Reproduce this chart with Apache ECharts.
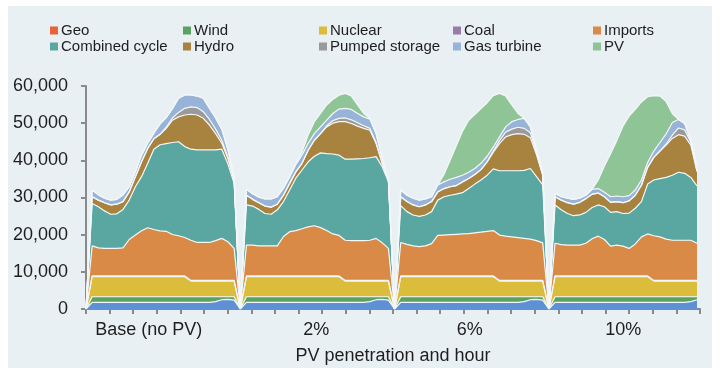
<!DOCTYPE html>
<html><head><meta charset="utf-8">
<script src="https://cdn.jsdelivr.net/npm/echarts/dist/echarts.min.js"></script>
<style>html,body{margin:0;padding:0;background:#fff}#c{width:721px;height:371px}</style>
</head><body><div id="c"></div>
<script>
// Scenario (panel) labels on the x axis
const scenarios = ['Base (no PV)', '2%', '6%', '10%'];
const seriesNames = ['Geo', 'Wind', 'Nuclear', 'Coal', 'Imports', 'Combined cycle', 'Hydro', 'Pumped storage', 'Gas turbine', 'PV'];
const yTicks = [0, 10000, 20000, 30000, 40000, 50000, 60000];

// Hourly generation (MW), hours 1-24, one array per scenario: Base, 2%, 6%, 10%
const geo = [
  [1800,1800,1800,1800,1800,1800,1800,1800,1800,1800,1800,1800,1800,1800,1800,1800,1800,1800,1800,1800,2000,2500,2600,2400],
  [1800,1800,1800,1800,1800,1800,1800,1800,1800,1800,1800,1800,1800,1800,1800,1800,1800,1800,1800,1800,2000,2500,2600,2400],
  [1800,1800,1800,1800,1800,1800,1800,1800,1800,1800,1800,1800,1800,1800,1800,1800,1800,1800,1800,1800,2000,2500,2600,2400],
  [1800,1800,1800,1800,1800,1800,1800,1800,1800,1800,1800,1800,1800,1800,1800,1800,1800,1800,1800,1800,1800,1800,2000,2500]
];
const wind = [
  [1500,1500,1500,1500,1500,1500,1500,1500,1500,1500,1500,1500,1500,1500,1500,1500,1500,1500,1500,1500,1300,800,700,900],
  [1500,1500,1500,1500,1500,1500,1500,1500,1500,1500,1500,1500,1500,1500,1500,1500,1500,1500,1500,1500,1300,800,700,900],
  [1500,1500,1500,1500,1500,1500,1500,1500,1500,1500,1500,1500,1500,1500,1500,1500,1500,1500,1500,1500,1300,800,700,900],
  [1500,1500,1500,1500,1500,1500,1500,1500,1500,1500,1500,1500,1500,1500,1500,1500,1500,1500,1500,1500,1500,1500,1300,800]
];
const nuclear = [
  [5400,5400,5400,5400,5400,5400,5400,5400,5400,5400,5400,5400,5400,5400,5400,5400,4200,4200,4200,4200,4200,4200,4200,4200],
  [5400,5400,5400,5400,5400,5400,5400,5400,5400,5400,5400,5400,5400,5400,5400,5400,4200,4200,4200,4200,4200,4200,4200,4200],
  [5400,5400,5400,5400,5400,5400,5400,5400,5400,5400,5400,5400,5400,5400,5400,5400,4200,4200,4200,4200,4200,4200,4200,4200],
  [5400,5400,5400,5400,5400,5400,5400,5400,5400,5400,5400,5400,5400,5400,5400,5400,4200,4200,4200,4200,4200,4200,4200,4200]
];
const coal = [
  [200,200,200,200,200,200,200,200,200,200,200,200,200,200,200,200,200,200,200,200,200,200,200,200],
  [200,200,200,200,200,200,200,200,200,200,200,200,200,200,200,200,200,200,200,200,200,200,200,200],
  [200,200,200,200,200,200,200,200,200,200,200,200,200,200,200,200,200,200,200,200,200,200,200,200],
  [200,200,200,200,200,200,200,200,200,200,200,200,200,200,200,200,200,200,200,200,200,200,200,200]
];
const imports = [
  [8100,7550,7400,7400,7400,7550,9800,11000,12150,12950,12500,12100,12000,11150,10800,10350,10800,10200,10200,10200,10700,11300,10400,8600],
  [8300,8300,8100,8100,8100,8100,10600,11900,12200,12700,13200,13500,13000,12200,11300,10900,10800,10700,10700,10700,10800,11300,10100,8600],
  [9000,8500,8100,7900,8100,8700,10900,11000,11100,11200,11300,11400,11600,11800,12000,12200,12200,11900,11700,11500,11300,11100,10700,10100],
  [8800,8400,8300,8300,8300,8800,10000,10700,9800,8000,8300,8000,7400,8600,10500,11300,12000,11700,11100,10800,10800,10800,10800,10000]
];
const combinedCycle = [
  [11400,11050,10100,9200,9300,10350,10600,13000,14550,17350,21600,23200,23600,24750,25300,24450,24500,24900,24900,24900,24400,24000,20900,17500],
  [10800,10500,9800,8700,8500,9700,9400,11200,14100,15800,17500,18700,20100,20700,21500,21600,21800,21900,22000,22100,22200,22000,20500,17900],
  [9900,8800,8300,8100,8300,8600,9500,10300,10600,10800,11100,12100,13100,14000,15100,16600,17300,17600,17800,18000,18300,19000,17200,15600],
  [10300,9400,8500,7900,8100,8300,8400,8400,8800,9100,9000,8800,9500,9600,9500,13400,15000,15700,16600,17500,18300,18000,16900,15400]
];
const hydro = [
  [1800,1800,2200,2500,2600,2100,2200,2700,4000,4000,2800,2800,4100,6000,6700,8500,9400,9400,8500,6700,4400,1600,1500,900],
  [2600,1800,1800,2000,1900,1500,1700,1800,1700,1800,3100,4300,5200,7200,8300,9000,10100,9600,8800,8100,7400,3500,900,500],
  [2400,2700,2700,2600,2700,2700,2200,2200,2300,2300,2900,2700,2600,2800,3600,4500,7300,9100,9700,10000,9700,8300,5900,2600],
  [2200,2600,2900,3100,3400,3700,3600,3200,2700,2700,2700,2900,3300,3500,4400,4500,6100,7400,8700,9900,10100,10000,8700,3900]
];
const pumpedStorage = [
  [0,0,0,0,0,0,0,0,0,0,0,0,300,600,1200,1800,2000,2000,1800,1500,1200,800,300,0],
  [0,0,0,0,0,0,0,0,0,0,0,0,0,300,700,900,1000,1000,900,700,500,300,0,0],
  [0,0,0,0,0,0,0,0,0,0,0,0,0,0,0,300,800,1300,1500,1700,1600,1300,500,0],
  [0,0,0,0,0,0,0,0,0,0,0,0,0,0,0,0,0,0,300,900,1800,1700,800,0]
];
const gasTurbine = [
  [1800,1400,1200,1300,1300,1800,1400,1300,1800,1400,1500,2800,2600,2500,3800,3600,3200,3100,3600,3000,3000,3000,2000,800],
  [1600,1500,1500,1900,2200,2000,1900,1800,1900,2200,1900,1800,1800,1500,1900,2500,2600,2800,2500,2400,2500,2400,1300,300],
  [1800,1700,1800,1800,1600,1300,1900,1800,2000,2200,1800,1700,1600,1700,1500,1100,1000,1400,2000,2100,2700,1600,600,800],
  [900,900,1200,1300,1100,900,1300,1200,1200,1500,1500,1600,1400,1400,1400,1300,1700,2300,2700,3400,2300,1700,500,1300]
];
const pv = [
  [0,0,0,0,0,0,0,0,0,0,0,0,0,0,0,0,0,0,0,0,0,0,0,0],
  [0,0,0,0,0,0,0,0,300,800,2200,3200,3600,4100,3800,3700,4000,3600,2300,900,200,0,0,0],
  [0,0,0,0,0,0,0,2000,5100,8500,11800,14000,14500,14700,14400,13800,11700,8300,4500,1600,0,0,0,0],
  [0,0,0,0,0,0,0,2300,7100,11600,14900,19000,21400,21700,21000,17700,14900,12500,8700,2400,0,0,0,0]
];

const seriesValues = [geo, wind, nuclear, coal, imports, combinedCycle, hydro, pumpedStorage, gasTurbine, pv];
const areaColors = ['#5f8fd4', '#59a262', '#dbbd3b', '#9b7aa8', '#d98a46', '#5aa6a1', '#a8823f', '#9a9a9a', '#97b3d8', '#8fc496'];
const legendColors = ['#e8633a', '#59a262', '#dbbd3b', '#9b7aa8', '#d98a46', '#5aa6a1', '#a8823f', '#9a9a9a', '#97b3d8', '#8fc496'];

// Scenarios side by side on one hour axis, separated by a zero point
function buildValues(panels) {
  let out = [0];
  panels.forEach((arr, p) => {
    out = out.concat(arr);
    if (p < panels.length - 1) out.push(0);
  });
  return out;
}
const hourCats = buildValues(geo).map((_, i) => String(i));

const FONT = 'Liberation Sans, Arial, sans-serif';
const TXT = '#1e1e1e';
const AX = '#8a8a8a';

const legendCols = [50, 183, 319, 453, 593];
const legendRows = [23, 39];
const legends = seriesNames.map((name, k) => ({
  show: true,
  data: [{ name: name, itemStyle: { color: legendColors[k], borderWidth: 0 } }],
  left: legendCols[k % 5],
  top: legendRows[Math.floor(k / 5)],
  padding: 0,
  icon: 'rect',
  itemWidth: 8,
  itemHeight: 8,
  selectedMode: false,
  itemStyle: { borderWidth: 0 },
  textStyle: { fontSize: 15, color: TXT, fontFamily: FONT, padding: [0, 0, 0, -2] }
}));

const chart = echarts.init(document.getElementById('c'), null, { renderer: 'canvas' });
chart.setOption({
  animation: false,
  backgroundColor: '#ffffff',
  textStyle: { fontFamily: FONT },
  graphic: [{
    type: 'rect', z: -100, silent: true,
    shape: { x: 8, y: 6, width: 704, height: 362 },
    style: { fill: '#e9f0f3' }
  }],
  legend: legends,
  grid: [
    { left: 86, right: 24, top: 86, bottom: 62, outerBoundsMode: 'none', containLabel: false },
    { left: 86, right: 21, top: 86, bottom: 62, outerBoundsMode: 'none', containLabel: false }
  ],
  xAxis: [
    { type: 'category', gridIndex: 0, data: hourCats, boundaryGap: false, show: false },
    {
      type: 'value', gridIndex: 1, min: 0, max: 26, interval: 1, position: 'bottom',
      axisLine: { show: true, onZero: false, lineStyle: { color: AX, width: 2 } },
      axisTick: { show: true, length: 5, lineStyle: { color: AX, width: 2 } },
      axisLabel: { show: false }, splitLine: { show: false }
    },
    {
      type: 'category', gridIndex: 1, data: scenarios, position: 'bottom', boundaryGap: true,
      axisLine: { show: false }, axisTick: { show: false }, splitLine: { show: false },
      axisLabel: {
        margin: 12, fontSize: 18, color: TXT, fontFamily: FONT, interval: 0,
        formatter: v => v === scenarios[0] ? '{a|' + v + '}' : '{b|' + v + '}',
        rich: {
          a: { fontSize: 18, color: TXT, fontFamily: FONT, padding: [0, 28, 0, 0] },
          b: { fontSize: 18, color: TXT, fontFamily: FONT }
        }
      },
      name: 'PV penetration and hour', nameLocation: 'middle', nameGap: 38,
      nameTextStyle: { fontSize: 18, color: TXT, fontFamily: FONT }
    }
  ],
  yAxis: [
    { type: 'value', gridIndex: 0, min: yTicks[0], max: yTicks[yTicks.length - 1], show: false },
    {
      type: 'value', gridIndex: 1, min: yTicks[0], max: yTicks[yTicks.length - 1], interval: 10000,
      axisLine: { show: true, lineStyle: { color: AX, width: 2 } },
      axisTick: { show: true, length: 5, lineStyle: { color: AX, width: 2 } },
      splitLine: { show: false },
      axisLabel: { fontSize: 18, color: TXT, fontFamily: FONT, margin: 18,
        formatter: v => v.toLocaleString('en-US') }
    }
  ],
  series: seriesNames.map((name, k) => ({
    name: name,
    type: 'line',
    stack: 'total',
    xAxisIndex: 0,
    yAxisIndex: 0,
    symbol: 'none',
    color: areaColors[k],
    data: buildValues(seriesValues[k]),
    lineStyle: { color: '#f4f7f8', width: 1.2 },
    areaStyle: { color: areaColors[k], opacity: 1 },
    emphasis: { disabled: true },
    z: 2
  }))
});
</script>
</body></html>
